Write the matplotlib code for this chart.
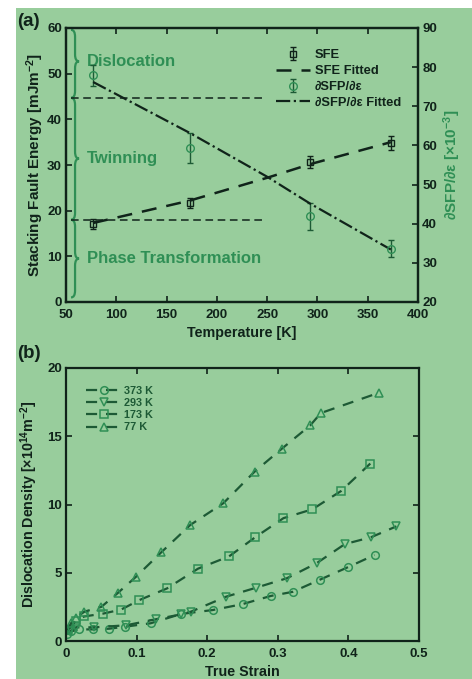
import matplotlib
matplotlib.use('Agg')
import matplotlib.pyplot as plt
from matplotlib.path import Path
from matplotlib.patches import PathPatch, Rectangle

plt.rcParams['font.family'] = ['Liberation Sans', 'DejaVu Sans']
plt.rcParams['font.weight'] = 'bold'
plt.rcParams['mathtext.fontset'] = 'custom'
plt.rcParams['mathtext.rm'] = 'Liberation Sans:bold'
plt.rcParams['mathtext.bf'] = 'Liberation Sans:bold'
plt.rcParams['mathtext.it'] = 'Liberation Sans:bold:italic'
plt.rcParams['mathtext.default'] = 'rm'

BG = '#98cd9c'
GREEN = '#2f8f55'
DKGREEN = '#1d5a35'
INK = '#10231a'

# ---- panel (a) data ----
temp = [77, 173, 293, 373]
sfe = [17.15, 21.7, 30.7, 34.8]
sfe_err = [1.1, 1.1, 1.3, 1.6]
dsfp = [77.9, 59.3, 41.9, 33.6]
dsfp_err = [2.7, 3.9, 3.5, 2.2]
fit_temp = [77, 173, 250, 293, 373]
sfe_fit = [17.3, 22.2, 27.2, 30.2, 35.0]
dsfp_fit = [76.2, 63.2, 52.0, 45.1, 33.4]
thresholds = [18.0, 44.7]
thr_span = [55, 246]
regimes = ['Dislocation', 'Twinning', 'Phase Transformation']
regime_lims = [(44.7, 59.6), (18.0, 44.7), (1.0, 18.0)]
regime_tips = [52.7, 31.4, 9.5]

# ---- panel (b) data ----
e77 = [0.002, 0.007, 0.014, 0.026, 0.05, 0.073, 0.099, 0.135, 0.176, 0.223, 0.267, 0.306, 0.346, 0.361, 0.444]
r77 = [0.8, 1.3, 1.7, 2.15, 2.5, 3.5, 4.7, 6.5, 8.5, 10.1, 12.4, 14.1, 15.8, 16.7, 18.2]
e173 = [0.003, 0.014, 0.026, 0.052, 0.078, 0.104, 0.143, 0.187, 0.231, 0.268, 0.308, 0.349, 0.39, 0.431]
r173 = [0.8, 1.5, 1.8, 2.0, 2.3, 3.0, 3.85, 5.3, 6.2, 7.6, 9.0, 9.65, 11.0, 13.0]
e293 = [0.005, 0.014, 0.04, 0.085, 0.128, 0.163, 0.177, 0.227, 0.269, 0.313, 0.355, 0.395, 0.432, 0.468]
r293 = [0.7, 1.0, 1.0, 1.15, 1.6, 1.95, 2.15, 3.25, 3.9, 4.6, 5.7, 7.1, 7.6, 8.4]
e373 = [0.002, 0.007, 0.019, 0.038, 0.061, 0.084, 0.12, 0.163, 0.208, 0.25, 0.29, 0.321, 0.36, 0.399, 0.437]
r373 = [0.5, 0.7, 0.85, 0.85, 0.9, 1.05, 1.3, 1.98, 2.27, 2.7, 3.3, 3.6, 4.5, 5.4, 6.3]


def brace(ax, x0, x1, y0, y1, ytip, r):
    xm = (x0 + x1) / 2
    verts = [(x0, y1), (xm, y1), (xm, y1 - r), (xm, ytip + r), (xm, ytip), (x1, ytip),
             (xm, ytip), (xm, ytip - r), (xm, y0 + r), (xm, y0), (x0, y0)]
    codes = [Path.MOVETO, Path.CURVE3, Path.CURVE3, Path.LINETO, Path.CURVE3, Path.CURVE3,
             Path.CURVE3, Path.CURVE3, Path.LINETO, Path.CURVE3, Path.CURVE3]
    ax.add_patch(PathPatch(Path(verts, codes), fill=False, ec=GREEN, lw=1.6))


def style(ax):
    for s in ax.spines.values():
        s.set_linewidth(1.6)
        s.set_color(INK)
    ax.tick_params(direction='in', length=4, width=1.2, labelsize=9.5, colors=INK, pad=3)
    ax.tick_params(axis='x', pad=5)
    for lab in ax.get_xticklabels() + ax.get_yticklabels():
        lab.set_fontweight('bold')


fig = plt.figure(figsize=(4.72, 6.79), dpi=100)
fig.patch.set_facecolor('white')
fig.patches.append(Rectangle((16 / 472, 0), 1, 1 - 8 / 679, transform=fig.transFigure,
                             fc=BG, ec='none', zorder=-10))

# ================= panel (a) =================
ax = fig.add_axes([66 / 472, 1 - 302 / 679, 352 / 472, 274 / 679])
ax.set_facecolor(BG)
ax2 = ax.twinx()
ax.set_xlim(50, 400)
ax.set_ylim(0, 60)
ax2.set_ylim(20, 90)
ax.set_xticks(range(50, 401, 50))
ax.set_yticks(range(0, 61, 10))
ax2.set_yticks(range(20, 91, 10))

for y in thresholds:
    ax.plot(thr_span, [y, y], ls=(0, (5, 3)), color=INK, lw=1.1)
for (lo, hi), tip, name in zip(regime_lims, regime_tips, regimes):
    brace(ax, 55, 63, lo, hi, tip, 1.5)
    ax.text(70.5, tip, name, color=GREEN, fontsize=12, fontweight='bold', va='center')

h1 = ax.errorbar(temp, sfe, yerr=sfe_err, fmt='s', mfc='none', mec=INK, ecolor=INK,
                 ms=4.5, capsize=2, elinewidth=1, mew=1)
h2, = ax.plot(fit_temp, sfe_fit, ls=(0, (6, 4)), color=INK, lw=1.8)
h3 = ax2.errorbar(temp, dsfp, yerr=dsfp_err, fmt='o', mfc='none', mec=GREEN, ecolor=DKGREEN,
                  ms=5.5, capsize=2, elinewidth=1, mew=1)
h4, = ax2.plot(fit_temp, dsfp_fit, ls='-.', color=INK, lw=1.6)

ax.legend([h1, h2, h3, h4], ['SFE', 'SFE Fitted', '∂SFP/∂ε', '∂SFP/∂ε Fitted'],
          loc='upper right', bbox_to_anchor=(0.985, 0.965), frameon=False,
          handlelength=2.6, labelspacing=0.3, handletextpad=0.4, labelcolor=INK,
          prop={'weight': 'bold', 'size': 9.3})

ax.set_xlabel('Temperature [K]', fontsize=10.3, fontweight='bold', color=INK, labelpad=4)
ax.set_ylabel('Stacking Fault Energy [mJm$^{-2}$]', fontsize=11, fontweight='bold', color=INK, labelpad=1)
ax2.set_ylabel('∂SFP/∂ε [×10$^{-3}$]', fontsize=11, fontweight='bold', color=GREEN, labelpad=3)
style(ax)
style(ax2)
ax.tick_params(top=True)
fig.text(17 / 472, 1 - 21 / 679, '(a)', fontsize=13.5, fontweight='bold', color=INK, va='center')

# ================= panel (b) =================
bx = fig.add_axes([66 / 472, 1 - 641 / 679, 353 / 472, 273 / 679])
bx.set_facecolor(BG)
bx.set_xlim(0, 0.5)
bx.set_ylim(0, 20)
bx.set_xticks([0, 0.1, 0.2, 0.3, 0.4, 0.5])
bx.set_xticklabels(['0', '0.1', '0.2', '0.3', '0.4', '0.5'])
bx.set_yticks([0, 5, 10, 15, 20])

kw = dict(ls=(0, (5, 4)), color=DKGREEN, lw=1.6, mfc='none', mec=GREEN, mew=1.1, ms=5.5)
bx.plot(e373, r373, marker='o', label='373 K', **kw)
bx.plot(e293, r293, marker='v', label='293 K', **kw)
bx.plot(e173, r173, marker='s', label='173 K', **kw)
bx.plot(e77, r77, marker='^', label='77 K', **kw)
bx.legend(loc='upper left', bbox_to_anchor=(0.03, 0.97), frameon=False, handlelength=3.2,
          labelspacing=0.2, handletextpad=0.3, labelcolor=DKGREEN,
          prop={'weight': 'bold', 'size': 7.8})

bx.set_xlabel('True Strain', fontsize=10.3, fontweight='bold', color=INK, labelpad=4)
bx.set_ylabel('Dislocation Density [×10$^{14}$m$^{-2}$]', fontsize=10.3, fontweight='bold', color=INK, labelpad=5)
style(bx)
bx.tick_params(top=True, right=True)
fig.text(17 / 472, 1 - 354 / 679, '(b)', fontsize=13.5, fontweight='bold', color=INK, va='center')

fig.savefig('out.png', dpi=100, facecolor=fig.get_facecolor())
